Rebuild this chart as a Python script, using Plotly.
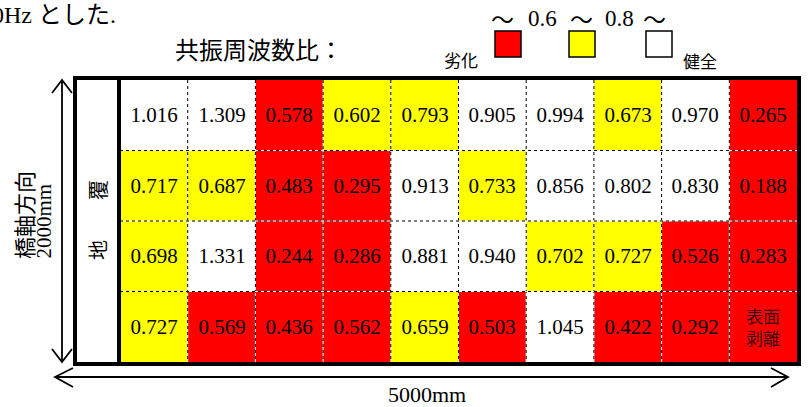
import plotly.graph_objects as go

# ---- data ----
col_labels = [f"C{i+1}" for i in range(10)]
row_labels = ["R1", "R2", "R3", "R4"]
row1 = [1.016, 1.309, 0.578, 0.602, 0.793, 0.905, 0.994, 0.673, 0.970, 0.265]
row2 = [0.717, 0.687, 0.483, 0.295, 0.913, 0.733, 0.856, 0.802, 0.830, 0.188]
row3 = [0.698, 1.331, 0.244, 0.286, 0.881, 0.940, 0.702, 0.727, 0.526, 0.283]
row4 = [0.727, 0.569, 0.436, 0.562, 0.659, 0.503, 1.045, 0.422, 0.292, None]
peeled_label = "表面<br>剥離"
thresholds = [0.6, 0.8]
legend_title = "共振周波数比："
legend_low, legend_high = "劣化", "健全"

rows = [row1, row2, row3, row4]

W, H = 808, 407
def px(x):
    return x / W
def py(y):
    return 1 - y / H

def category(v):
    if v is None or v < thresholds[0]:
        return 0
    if v < thresholds[1]:
        return 1
    return 2

z = [[category(v) for v in r] for r in rows]
text = [["" if v is None else f"{v:.3f}" for v in r] for r in rows]

RED, YEL, WHT = "#FF0000", "#FFFF00", "#FFFFFF"
cs = [[0, RED], [0.25, RED], [0.25, YEL], [0.75, YEL], [0.75, WHT], [1, WHT]]

SERIF = "Liberation Serif, Times New Roman, Noto Sans CJK JP, serif"
JP = "Noto Sans CJK JP, Liberation Serif, sans-serif"

fig = go.Figure()
fig.add_trace(go.Heatmap(
    z=z, x=list(range(len(col_labels))), y=list(range(len(row_labels))),
    text=text, texttemplate="%{text}",
    textfont=dict(family=SERIF, size=21, color="black"),
    colorscale=cs, zmin=0, zmax=2, showscale=False, hoverinfo="skip",
    xgap=0, ygap=0,
))

shapes = []
# dotted cell grid
for k in range(len(col_labels) - 1):
    for col, dash in (("white", "solid"), ("black", "dot")):
        shapes.append(dict(type="line", xref="x", yref="y", x0=k + 0.5, x1=k + 0.5,
                           y0=-0.5, y1=len(row_labels) - 0.5,
                           line=dict(color=col, width=1, dash=dash), layer="above"))
for j in range(len(row_labels) - 1):
    for col, dash in (("white", "solid"), ("black", "dot")):
        shapes.append(dict(type="line", xref="x", yref="y", y0=j + 0.5, y1=j + 0.5,
                           x0=-0.5, x1=len(col_labels) - 0.5,
                           line=dict(color=col, width=1, dash=dash), layer="above"))

# thick frame
shapes.append(dict(type="rect", xref="paper", yref="paper", x0=px(75), x1=px(799),
                   y0=py(364), y1=py(78), line=dict(color="black", width=4), layer="above"))
shapes.append(dict(type="line", xref="paper", yref="paper", x0=px(119), x1=px(119),
                   y0=py(364), y1=py(78), line=dict(color="black", width=4), layer="above"))

# arrows (decorative dimension lines)
def path(pts):
    return "M " + " L ".join(f"{px(a)},{py(b)}" for a, b in pts)

arrow_line = dict(color="black", width=1.8)
shapes.append(dict(type="path", xref="paper", yref="paper", path=path([(62, 80), (62, 362)]), line=arrow_line))
shapes.append(dict(type="path", xref="paper", yref="paper", path=path([(52, 93), (62, 80), (72, 93)]), line=arrow_line))
shapes.append(dict(type="path", xref="paper", yref="paper", path=path([(52, 349), (62, 362), (72, 349)]), line=arrow_line))
shapes.append(dict(type="path", xref="paper", yref="paper", path=path([(55, 377), (788, 377)]), line=arrow_line))
shapes.append(dict(type="path", xref="paper", yref="paper", path=path([(73, 368), (55, 377), (73, 387)]), line=arrow_line))
shapes.append(dict(type="path", xref="paper", yref="paper", path=path([(771, 368), (788, 377), (771, 387)]), line=arrow_line))

# legend squares
for x0, col in ((495, RED), (569, YEL), (646, WHT)):
    shapes.append(dict(type="rect", xref="paper", yref="paper", x0=px(x0), x1=px(x0 + 26),
                       y0=py(57), y1=py(31), fillcolor=col, line=dict(color="black", width=1.5)))

ann = []
def txt(x, y, s, size, family=SERIF, angle=0, color="black", xanchor="center", yanchor="middle"):
    ann.append(dict(xref="paper", yref="paper", x=px(x), y=py(y), text=s, showarrow=False,
                    font=dict(family=family, size=size, color=color), textangle=angle,
                    xanchor=xanchor, yanchor=yanchor))

txt(-10, 15, "0Hz とした.", 24, xanchor="left")
txt(259, 49, legend_title, 24, family=JP)
# threshold scale  ～ 0.6 ～ 0.8 ～
for xc, s in ((502, "～"), (542, f"{thresholds[0]}"), (581, "～"), (619, f"{thresholds[1]}"), (654, "～")):
    txt(xc, 18, s, 23, family=SERIF if s[0].isdigit() else JP)
txt(461, 59, legend_low, 17, family=JP)
txt(700, 61, legend_high, 17, family=JP)
txt(23, 261, "橋軸方向", 22, family=JP, angle=-90, yanchor="bottom")
txt(43, 261, "2000mm", 21, angle=-90, yanchor="bottom")
txt(97, 220, "地　　覆", 20, family=JP, angle=-90)
txt(427, 394, "5000mm", 22)

# peeled cell label placed at its data cell
ann.append(dict(xref="x", yref="y", x=len(col_labels) - 1, y=len(row_labels) - 1,
                text=peeled_label, showarrow=False,
                font=dict(family=JP, size=17, color="#3c0000")))

fig.update_layout(
    width=W, height=H, margin=dict(l=0, r=0, t=0, b=0),
    paper_bgcolor="white", plot_bgcolor="white",
    xaxis=dict(domain=[px(120), px(797)], range=[-0.5, 9.5], visible=False, fixedrange=True),
    yaxis=dict(domain=[py(362), py(80)], range=[3.5, -0.5], visible=False, fixedrange=True),
    shapes=shapes, annotations=ann, showlegend=False,
)
fig.write_html("out.html", config=dict(displayModeBar=False))

# remove the default page margin so the figure sits at the window's top-left corner
with open("out.html", encoding="utf-8") as f:
    html = f.read()
html = html.replace("<head>", "<head><style>html,body{margin:0;padding:0;overflow:hidden;}</style>", 1)
with open("out.html", "w", encoding="utf-8") as f:
    f.write(html)
